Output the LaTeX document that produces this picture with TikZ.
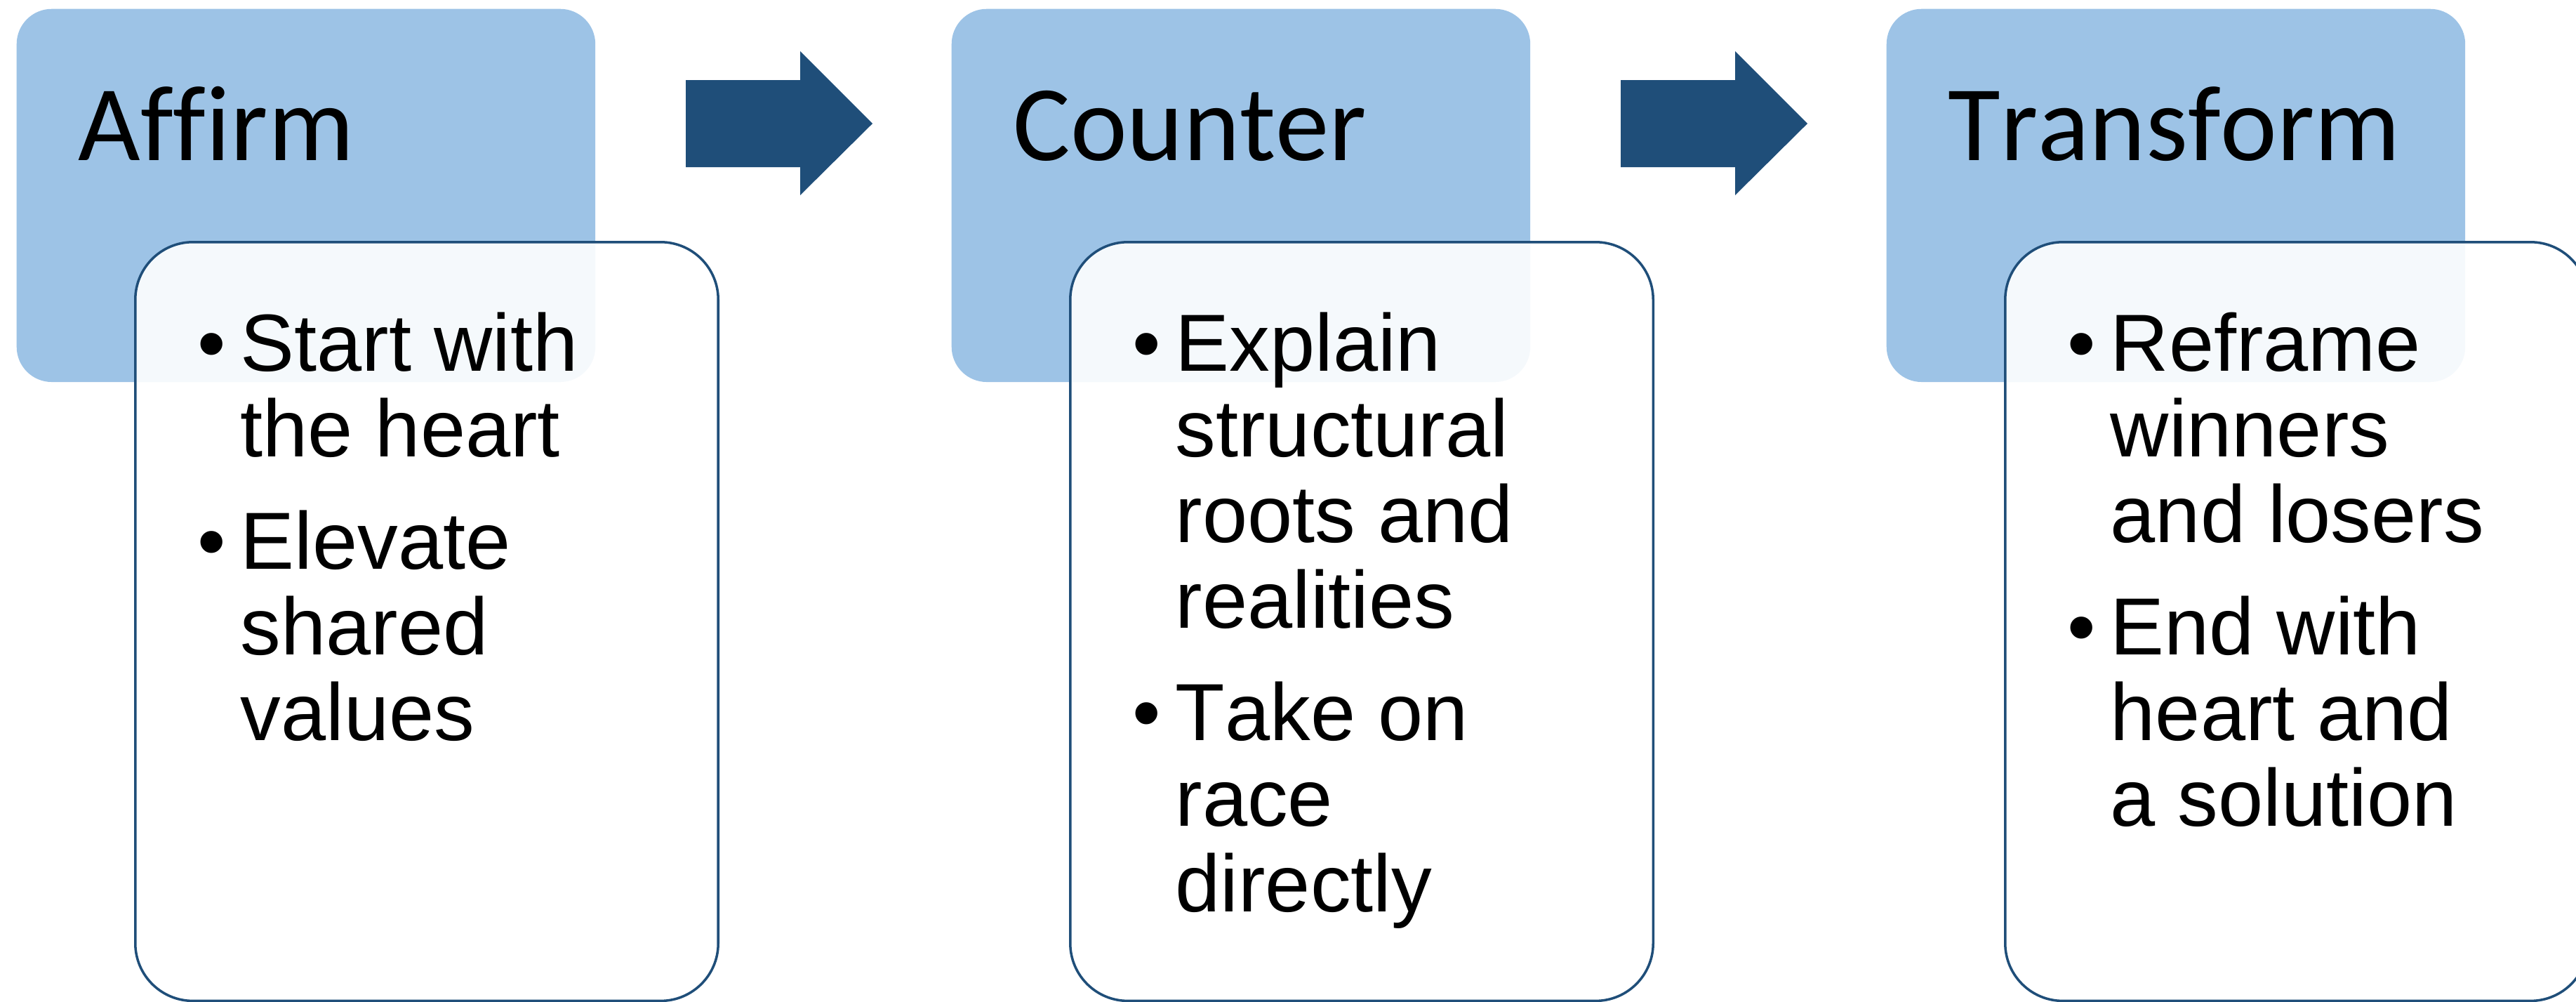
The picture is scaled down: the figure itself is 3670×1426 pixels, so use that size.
\documentclass[tikz,border=0pt]{standalone}
\usepackage{fontspec}
\setmainfont{Liberation Sans}[Kerning=Off]
\newfontfamily\headfont{Carlito}[Ligatures=NoCommon, Kerning=Off]
\usetikzlibrary{positioning}
\definecolor{headblue}{HTML}{9DC3E6}
\definecolor{darkblue}{HTML}{1F4E79}

\begin{document}
\begin{tikzpicture}[x=0.01cm, y=-0.01cm,
  headbox/.style={fill=headblue, rounded corners=0.5cm, minimum width=8.24cm, minimum height=5.31cm, anchor=north west, inner sep=0},
  bodybox/.style={draw=darkblue, line width=1pt, fill=white, fill opacity=0.9, rounded corners=0.82cm, minimum width=8.3cm, minimum height=10.8cm, anchor=north west, inner sep=0},
  headtxt/.style={font=\headfont\fontsize{43.5}{52}\selectfont, anchor=base west, inner sep=0},
  itemtxt/.style={font=\fontsize{32.8}{39}\selectfont, anchor=base west, inner sep=0},
  flow/.style={fill=darkblue}]
\useasboundingbox (0,0) rectangle (3670,1426);

% Affirm
\node[headbox] (affirmhead) at (23,12) {};
\node[bodybox] (affirmbody) at (191,343) {};
\node[headtxt] (affirmtitle) at (111,228) {Affirm};
\node[itemtxt] (affirmdotA) at (281,528) {•};
\foreach \txt [count=\i] in {Start with, the heart}
  \node[itemtxt] (affirmA\i) at (342,{528+122*(\i-1)}) {\txt};
\node[itemtxt] (affirmdotB) at (281,810) {•};
\foreach \txt [count=\i] in {Elevate, shared, values}
  \node[itemtxt] (affirmB\i) at (342,{810+122*(\i-1)}) {\txt};

% Counter
\node[headbox] (counterhead) at (1355,12) {};
\node[bodybox] (counterbody) at (1523,343) {};
\node[headtxt] (countertitle) at (1443,228) {Counter};
\node[itemtxt] (counterdotA) at (1613,528) {•};
\foreach \txt [count=\i] in {Explain, structural, roots and, realities}
  \node[itemtxt] (counterA\i) at (1674,{528+122*(\i-1)}) {\txt};
\node[itemtxt] (counterdotB) at (1613,1054) {•};
\foreach \txt [count=\i] in {Take on, race, directly}
  \node[itemtxt] (counterB\i) at (1674,{1054+122*(\i-1)}) {\txt};

% Transform
\node[headbox] (transformhead) at (2687,12) {};
\node[bodybox] (transformbody) at (2855,343) {};
\node[headtxt] (transformtitle) at (2775,228) {Transform};
\node[itemtxt] (transformdotA) at (2945,528) {•};
\foreach \txt [count=\i] in {Reframe, winners, and losers}
  \node[itemtxt] (transformA\i) at (3006,{528+122*(\i-1)}) {\txt};
\node[itemtxt] (transformdotB) at (2945,932) {•};
\foreach \txt [count=\i] in {End with, heart and, a solution}
  \node[itemtxt] (transformB\i) at (3006,{932+122*(\i-1)}) {\txt};

% block arrows
\coordinate (flowA) at (977,176);
\coordinate (flowB) at (2309,176);
\foreach \c in {flowA,flowB}
  \fill[flow] (\c) ++(0,-62) -- ++(163,0) -- ++(0,-41) -- ++(103,103)
    -- ++(-103,102) -- ++(0,-40) -- ++(-163,0) -- cycle;
\end{tikzpicture}
\end{document}
